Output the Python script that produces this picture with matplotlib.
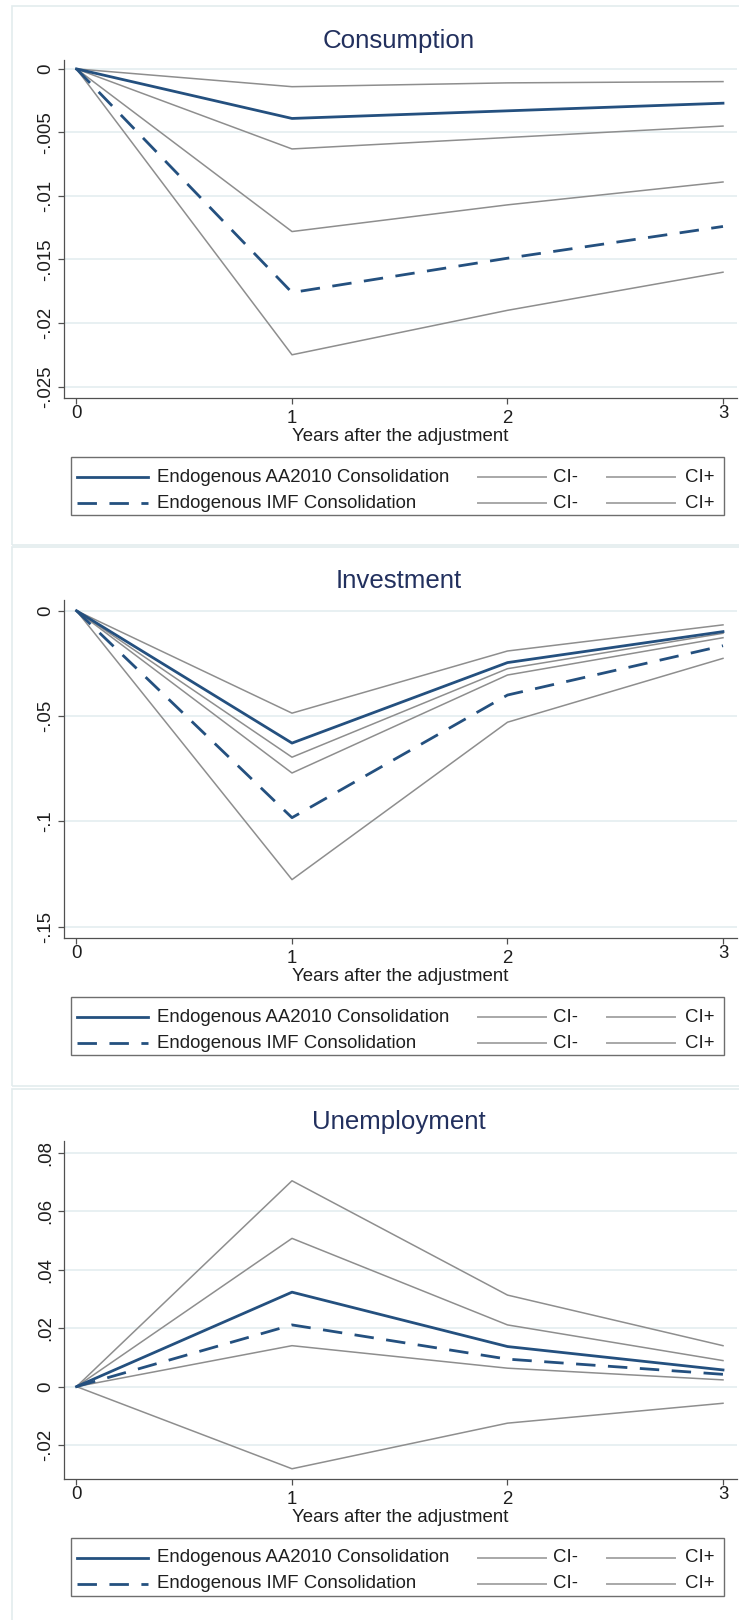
import matplotlib
matplotlib.use('Agg')
import matplotlib.pyplot as plt
from matplotlib.lines import Line2D
from matplotlib.patches import Rectangle

plt.rcParams['font.family'] = ['Liberation Sans', 'DejaVu Sans']

W, H = 739, 1620

# impulse responses, years 0..3 after the adjustment
years = [0, 1, 2, 3]

cons_aa = [0, -0.0039, -0.0033, -0.0027]
cons_aa_lo = [0, -0.0063, -0.0054, -0.0045]
cons_aa_hi = [0, -0.0014, -0.0011, -0.0010]
cons_imf = [0, -0.0176, -0.0149, -0.0124]
cons_imf_lo = [0, -0.0225, -0.0190, -0.0160]
cons_imf_hi = [0, -0.0128, -0.0107, -0.0089]

inv_aa = [0, -0.0628, -0.0246, -0.0099]
inv_aa_lo = [0, -0.0770, -0.0305, -0.0128]
inv_aa_hi = [0, -0.0486, -0.0191, -0.0067]
inv_imf = [0, -0.0982, -0.0400, -0.0166]
inv_imf_lo = [0, -0.1276, -0.0529, -0.0226]
inv_imf_hi = [0, -0.0695, -0.0275, -0.0107]

un_aa = [0, 0.0323, 0.0137, 0.0057]
un_aa_lo = [0, 0.0140, 0.0063, 0.0023]
un_aa_hi = [0, 0.0507, 0.0211, 0.0089]
un_imf = [0, 0.0211, 0.0094, 0.0042]
un_imf_lo = [0, -0.0281, -0.0125, -0.0057]
un_imf_hi = [0, 0.0704, 0.0313, 0.0140]

titles = ['Consumption', 'Investment', 'Unemployment']
yticks = [[0, -0.005, -0.01, -0.015, -0.02, -0.025],
          [0, -0.05, -0.1, -0.15],
          [-0.02, 0, 0.02, 0.04, 0.06, 0.08]]
ytick_labels = [['0', '-.005', '-.01', '-.015', '-.02', '-.025'],
                ['0', '-.05', '-.1', '-.15'],
                ['-.02', '0', '.02', '.04', '.06', '.08']]
ylims = [(-0.0259, 0.0007), (-0.1553, 0.0051), (-0.0316, 0.0840)]
xlabel = 'Years after the adjustment'
legend_names = ['Endogenous AA2010 Consolidation', 'Endogenous IMF Consolidation']

series = [
    (cons_aa, cons_aa_lo, cons_aa_hi, cons_imf, cons_imf_lo, cons_imf_hi),
    (inv_aa, inv_aa_lo, inv_aa_hi, inv_imf, inv_imf_lo, inv_imf_hi),
    (un_aa, un_aa_lo, un_aa_hi, un_imf, un_imf_lo, un_imf_hi),
]

navy = '#24507f'
grey = '#8e8e8e'
grid_c = '#e2ecef'
axis_c = '#505050'
frame_c = '#e3ecee'
txt_c = '#1e1e1e'
FS = 13.4


def fx(x):
    return x / W


def fy(y):
    return 1 - y / H


fig = plt.figure(figsize=(W / 100, H / 100), dpi=100)
fig.patch.set_facecolor('white')

offsets = [0, 540, 1081]
frames = [(6, 545), (547, 1086), (1089, 1640)]

for k in range(3):
    o = offsets[k]
    # outer frame of each graph
    top, bot = frames[k]
    fig.add_artist(Rectangle((fx(12), fy(bot)), fx(760) - fx(12), (bot - top) / H,
                             transform=fig.transFigure, fill=False,
                             edgecolor=frame_c, lw=1.2))

    ax_top, ax_bot = 60 + o, 398 + o
    ax = fig.add_axes([fx(64), fy(ax_bot), fx(737) - fx(64), (ax_bot - ax_top) / H])
    aa, aa_lo, aa_hi, imf, imf_lo, imf_hi = series[k]

    ax.plot(years, aa_lo, color=grey, lw=1.1, zorder=3)
    ax.plot(years, aa_hi, color=grey, lw=1.1, zorder=3)
    ax.plot(years, imf_lo, color=grey, lw=1.1, zorder=3)
    ax.plot(years, imf_hi, color=grey, lw=1.1, zorder=3)
    ax.plot(years, aa, color=navy, lw=2.0, zorder=4)
    ax.plot(years, imf, color=navy, lw=2.0, dashes=(7, 4.5), zorder=4)

    ax.set_xlim(-0.058, 3.065)
    ax.set_ylim(*ylims[k])
    ax.set_yticks(yticks[k])
    ax.set_yticklabels(ytick_labels[k], fontsize=FS, color=txt_c)
    plt.setp(ax.get_yticklabels(), rotation=90, va='center')
    ax.set_xticks(years)
    ax.set_xticklabels([])
    for yv in yticks[k]:
        ax.axhline(yv, color=grid_c, lw=1.1, zorder=1)

    for s in ['top', 'right']:
        ax.spines[s].set_visible(False)
    for s in ['left', 'bottom']:
        ax.spines[s].set_color(axis_c)
        ax.spines[s].set_linewidth(0.9)
    ax.tick_params(axis='both', direction='out', length=4.3, width=0.9, color=axis_c)
    ax.tick_params(axis='y', pad=3)

    # x tick labels, the middle two sit a little lower
    for xv in years:
        dy = 20 if xv in (0, 3) else 25
        ax.annotate(str(xv), xy=(xv, 0), xycoords=('data', 'axes fraction'),
                    xytext=(0, -dy), textcoords='offset pixels',
                    ha='center', va='baseline', fontsize=FS, color=txt_c)
    ax.annotate(xlabel, xy=(1.5, 0), xycoords=('data', 'axes fraction'),
                xytext=(0, -43), textcoords='offset pixels',
                ha='center', va='baseline', fontsize=FS, color=txt_c)

    fig.text(fx(399), fy(48 + o), titles[k], ha='center', va='baseline',
             fontsize=18.6, color='#22305e')

    # legend box
    lt, lb = 398 + o + 59, 398 + o + 117
    fig.add_artist(Rectangle((fx(71), fy(lb)), fx(724) - fx(71), (lb - lt) / H,
                             transform=fig.transFigure, fill=False,
                             edgecolor='#6e6e6e', lw=1.0))
    rows = [398 + o + 79, 398 + o + 105]
    for r, yrow in enumerate(rows):
        ls = '-' if r == 0 else (0, (7, 4.5))
        fig.add_artist(Line2D([fx(77), fx(148)], [fy(yrow), fy(yrow)],
                              transform=fig.transFigure, color=navy, lw=2.0,
                              linestyle=ls))
        fig.text(fx(157), fy(yrow), legend_names[r], ha='left', va='center',
                 fontsize=FS, color=txt_c)
        for x0, x1, xt, lab in [(478, 546, 553, 'CI-'), (607, 675, 685, 'CI+')]:
            fig.add_artist(Line2D([fx(x0), fx(x1)], [fy(yrow), fy(yrow)],
                                  transform=fig.transFigure, color='#a8a8a8', lw=1.4))
            fig.text(fx(xt), fy(yrow), lab, ha='left', va='center',
                     fontsize=FS, color=txt_c)

fig.savefig('out.png', dpi=100, facecolor='white')
